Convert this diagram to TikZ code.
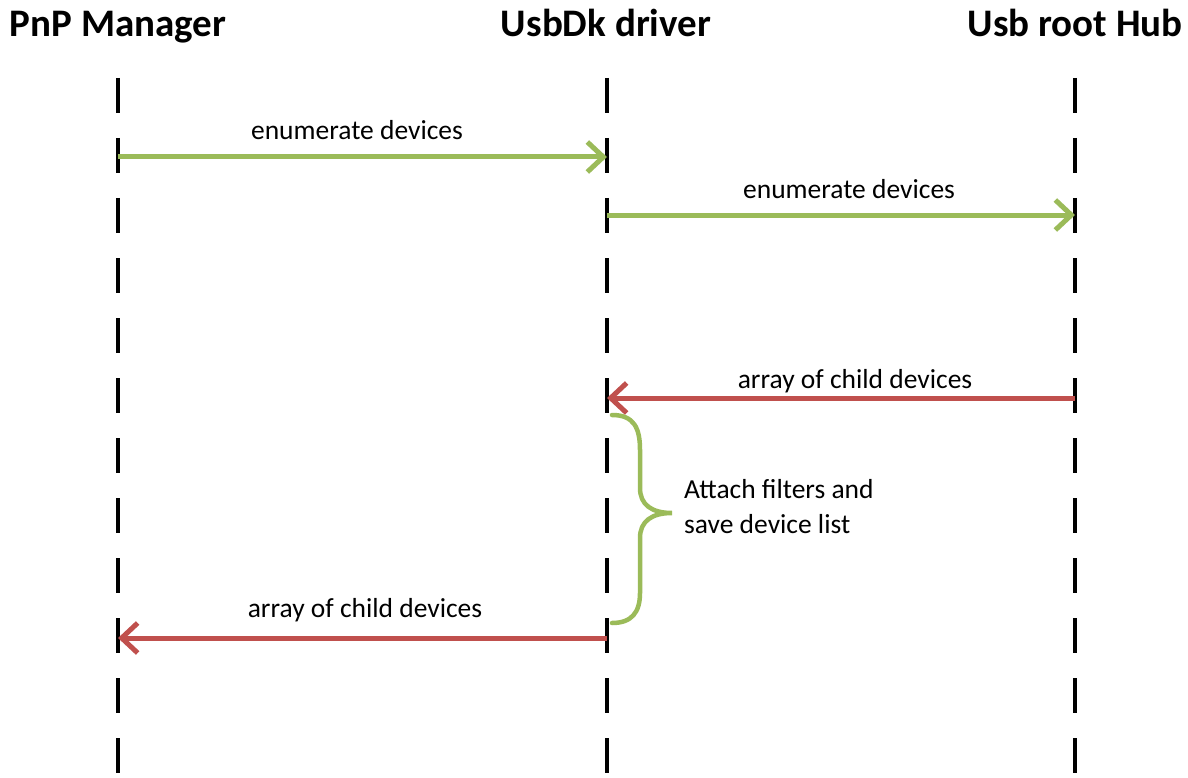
\documentclass[tikz,border=0pt]{standalone}
\usepackage{fontspec}
\setmainfont{Carlito}
\usetikzlibrary{arrows.meta}
\definecolor{okgreen}{RGB}{155,187,89}
\definecolor{okred}{RGB}{192,80,77}
\begin{document}
\begin{tikzpicture}[x=1pt,y=-1pt,
  lifeline/.style={line width=4.5pt, dash pattern=on 35pt off 25pt},
  msg/.style={line width=5pt, -{Straight Barb[length=16pt,width=30pt,line width=5pt]}},
  title/.style={font=\bfseries\fontsize{39}{44}\selectfont, inner sep=0pt, anchor=base},
  lbl/.style={font=\fontsize{27.5}{31}\selectfont, inner sep=0pt, anchor=base},
  note/.style={font=\fontsize{27.5}{35}\selectfont, inner sep=0pt, align=left, anchor=base west}]
\useasboundingbox (0,0) rectangle (1188,778);
% headers
\node[title] (pnp) at (118,37) {PnP Manager};
\node[title] (dk)  at (606,37) {UsbDk driver};
\node[title] (hub) at (1075,37) {Usb root Hub};
% lifelines
\coordinate (pnpT) at (118,78); \coordinate (pnpB) at (118,800);
\coordinate (dkT) at (607,78);  \coordinate (dkB) at (607,800);
\coordinate (hubT) at (1075,78); \coordinate (hubB) at (1075,800);
\draw[lifeline] (pnpT) -- (pnpB);
\draw[lifeline] (dkT) -- (dkB);
\draw[lifeline] (hubT) -- (hubB);
% message points
\coordinate (m1a) at (118,157); \coordinate (m1b) at (607,157);
\coordinate (m2a) at (607,215); \coordinate (m2b) at (1075,215);
\coordinate (m3a) at (1075,398); \coordinate (m3b) at (607,398);
\coordinate (m4a) at (607,638); \coordinate (m4b) at (118,638);
\draw[msg, okgreen] (m1a) -- (m1b);
\draw[msg, okgreen] (m2a) -- (m2b);
\draw[msg, okred] (m3a) -- (m3b);
\draw[msg, okred] (m4a) -- (m4b);
\node[lbl] (l1) at (357,140) {enumerate devices};
\node[lbl] (l2) at (849,199) {enumerate devices};
\node[lbl] (l3) at (855,388) {array of child devices};
\node[lbl] (l4) at (365,617) {array of child devices};
% brace
\coordinate (bt) at (612,415);
\coordinate (bm) at (672,513);
\coordinate (bb) at (612,623);
\draw[okgreen, line width=4.5pt, line cap=round]
  (bt) .. controls (634,415) and (640,428) .. (640,450)
  -- (640,488) .. controls (640,505) and (652,513) .. (bm)
  .. controls (652,513) and (640,521) .. (640,538)
  -- (640,593) .. controls (640,612) and (632,623) .. (bb);
\node[note] (attach) at (684,533) {Attach filters and\\save device list};
\end{tikzpicture}
\end{document}
